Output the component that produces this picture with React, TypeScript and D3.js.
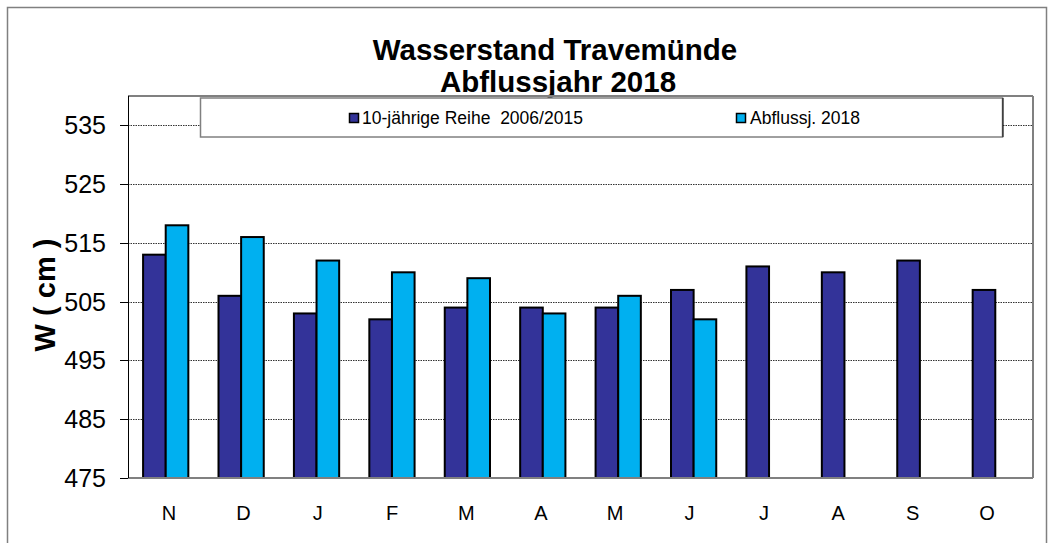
import React from 'react';
import * as d3 from 'd3';

const months: string[] = ['N', 'D', 'J', 'F', 'M', 'A', 'M', 'J', 'J', 'A', 'S', 'O'];
const reihe10: number[] = [513, 506, 503, 502, 504, 504, 504, 507, 511, 510, 512, 507];
const abfluss2018: (number | null)[] = [518, 516, 512, 510, 509, 503, 506, 502, null, null, null, null];
const yTicks: number[] = [475, 485, 495, 505, 515, 525, 535];
const seriesNames: string[] = ['10-jährige Reihe  2006/2015', 'Abflussj. 2018'];
const titleLines: string[] = ['Wasserstand Travemünde', 'Abflussjahr 2018'];
const yTitle = 'W ( cm )';

const W = 1048;
const H = 543;
const plot = { left: 128, right: 1033, top: 96, bottom: 478 };
const colors = ['#333399', '#00B0F0'];
const font = 'Arial, "Liberation Sans", Helvetica, sans-serif';

export default function App() {
  const idx = months.map((_, i) => i);
  const x = d3.scaleBand<number>().domain(idx).range([plot.left, plot.right]).padding(0);
  const step = x.step();
  const bw = step * 0.3;
  const xl = d3.scalePoint<number>().domain(idx).range([169, 987]);
  const y = d3.scaleLinear().domain([475, 540]).range([plot.bottom, plot.top]);

  return (
    <svg width={W} height={H} style={{ position: 'absolute', left: 0, top: 0, background: '#fff' }} fontFamily={font}>
      <rect x={0} y={0} width={W} height={H} fill="#fff" />
      <rect x={7.5} y={7.5} width={1039} height={560} fill="none" stroke="#808080" strokeWidth={1.5} />
      {/* Title */}
      <text x={555} y={60} textAnchor="middle" fontSize={29.5} fontWeight="bold" fill="#000">{titleLines[0]}</text>
      <text x={558} y={92} textAnchor="middle" fontSize={29.5} fontWeight="bold" fill="#000">{titleLines[1]}</text>

      {/* gridlines */}
      {yTicks.filter(t => t !== 475).map(t => (
        <line key={'g' + t} x1={plot.left} x2={plot.right} y1={Math.round(y(t)) + 0.5} y2={Math.round(y(t)) + 0.5}
          stroke="#333" strokeWidth={1} strokeDasharray="1.5 1" />
      ))}

      {/* plot area border */}
      <line x1={plot.left} x2={plot.right} y1={plot.top} y2={plot.top} stroke="#808080" strokeWidth={2} />
      <line x1={plot.right} x2={plot.right} y1={plot.top} y2={plot.bottom} stroke="#808080" strokeWidth={2} />

      {/* bars */}
      {reihe10.map((v, i) => {
        const cx = (x(i) as number) + step / 2;
        return (
          <rect key={'a' + i} x={cx - bw} y={y(v)} width={bw} height={y(475) - y(v)}
            fill={colors[0]} stroke="#000" strokeWidth={2} />
        );
      })}
      {abfluss2018.map((v, i) => {
        if (v == null) return null;
        const cx = (x(i) as number) + step / 2;
        return (
          <rect key={'b' + i} x={cx} y={y(v)} width={bw} height={y(475) - y(v)}
            fill={colors[1]} stroke="#000" strokeWidth={2} />
        );
      })}

      {/* x axis (bottom) */}
      <line x1={plot.left} x2={plot.right} y1={plot.bottom} y2={plot.bottom} stroke="#808080" strokeWidth={2} />
      {/* y axis */}
      <line x1={plot.left + 0.5} x2={plot.left + 0.5} y1={plot.top} y2={plot.bottom} stroke="#000" strokeWidth={1} />
      {yTicks.map(t => (
        <g key={'t' + t}>
          <line x1={120} x2={plot.left} y1={Math.round(y(t)) + 0.5} y2={Math.round(y(t)) + 0.5} stroke="#000" strokeWidth={1} />
          <text x={106} y={y(t)} dy="0.36em" textAnchor="end" fontSize={25} fill="#000">{t}</text>
        </g>
      ))}
      {months.map((m, i) => (
        <text key={'m' + i} x={xl(i)} y={520} textAnchor="middle" fontSize={20} fill="#000">{m}</text>
      ))}

      {/* y title */}
      <text transform={`translate(55,${295}) rotate(-90)`} textAnchor="middle" fontSize={29} fontWeight="bold" fill="#000">{yTitle}</text>

      {/* legend */}
      <rect x={200.5} y={98} width={802} height={39} fill="#fff" stroke="#808080" strokeWidth={1.5} />
      <line x1={1003} x2={1003} y1={98} y2={137} stroke="#000" strokeWidth={1} />
      <rect x={349.5} y={113.5} width={9} height={9} fill={colors[0]} stroke="#000" strokeWidth={1.5} />
      <text x={362} y={124} fontSize={17.5} fill="#000" style={{ whiteSpace: 'pre' }}>{seriesNames[0]}</text>
      <rect x={736.5} y={113.5} width={9} height={9} fill={colors[1]} stroke="#000" strokeWidth={1.5} />
      <text x={750} y={124} fontSize={17.5} fill="#000">{seriesNames[1]}</text>
    </svg>
  );
}
